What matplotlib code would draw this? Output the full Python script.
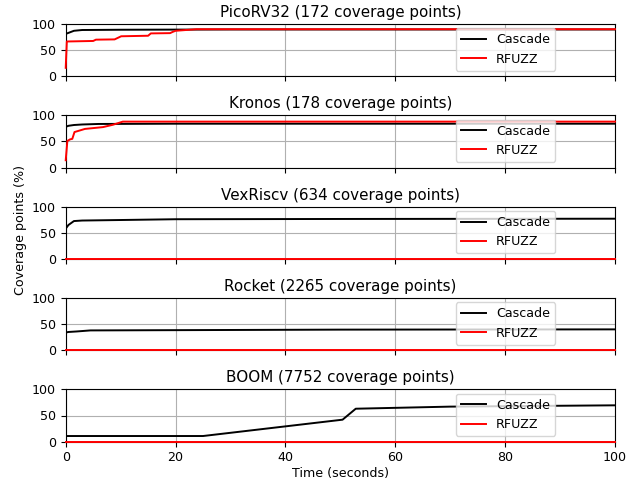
import numpy as np
import matplotlib
matplotlib.use("Agg")
import matplotlib.pyplot as plt

plt.rcParams["font.size"] = 9.1
plt.rcParams["axes.titlesize"] = 10.9
plt.rcParams["lines.linewidth"] = 1.4

# designs et nombre de points de couverture
designs = ["PicoRV32", "Kronos", "VexRiscv", "Rocket", "BOOM"]
n_points = [172, 178, 634, 2265, 7752]

# Cascade (temps, couverture %)
cascade_t = [
    [0, 0.5, 1.5, 3, 10, 30, 100],
    [0, 0.5, 1.5, 3, 6, 20, 100],
    [0, 0.5, 1.5, 3, 10, 20, 50, 100],
    [0, 0.5, 2, 4.5, 20, 50, 100],
    [0, 25, 50.4, 52.8, 70, 100],
]
cascade_v = [
    [81, 83, 87, 88.5, 89, 89.5, 89.5],
    [78, 80, 81.5, 82.5, 83.5, 84, 84],
    [58, 65, 72.5, 73.5, 74.5, 76, 76.5, 77],
    [34, 35, 36, 38, 38.5, 39.5, 40],
    [10.7, 10.7, 42, 63, 67, 69.5],
]

# RFUZZ
rfuzz_t = [
    [0, 0.2, 5, 5.5, 8.9, 9.5, 10.1, 15, 15.5, 19, 19.5, 20, 23.8, 100],
    [0, 0.3, 0.8, 1.2, 1.6, 3.5, 6.8, 8.6, 10.4, 100],
    [0, 100],
    [0, 100],
    [0, 100],
]
rfuzz_v = [
    [16, 66.5, 67.5, 70, 70.5, 73.5, 76.5, 77.5, 82, 82.5, 85, 87, 90, 90],
    [14, 51, 54, 55, 68, 74, 77.5, 82, 88, 88],
    [0, 0],
    [0, 0],
    [0, 0],
]

fig, axes = plt.subplots(5, 1, figsize=(6.38, 4.8), dpi=100, sharex=True)
fig.subplots_adjust(left=0.103, right=0.964, top=0.95, bottom=0.08, hspace=0.75)

for i, ax in enumerate(axes):
    ax.plot(cascade_t[i], cascade_v[i], color="black", label="Cascade", zorder=3)
    ax.plot(rfuzz_t[i], rfuzz_v[i], color="red", label="RFUZZ", zorder=3, clip_on=False)
    ax.set_title(f"{designs[i]} ({n_points[i]} coverage points)", pad=5)
    ax.set_xlim(0, 100)
    ax.set_ylim(0, 100)
    ax.grid(True, linewidth=0.8)
    leg = ax.legend(loc="upper left", bbox_to_anchor=(0.71, 0.92), borderaxespad=0)
    leg.set_zorder(5)

axes[-1].set_xlabel("Time (seconds)", labelpad=2)
fig.text(0.032, 0.52, "Coverage points (%)", rotation=90, va="center", ha="center")

plt.savefig("out.png")
